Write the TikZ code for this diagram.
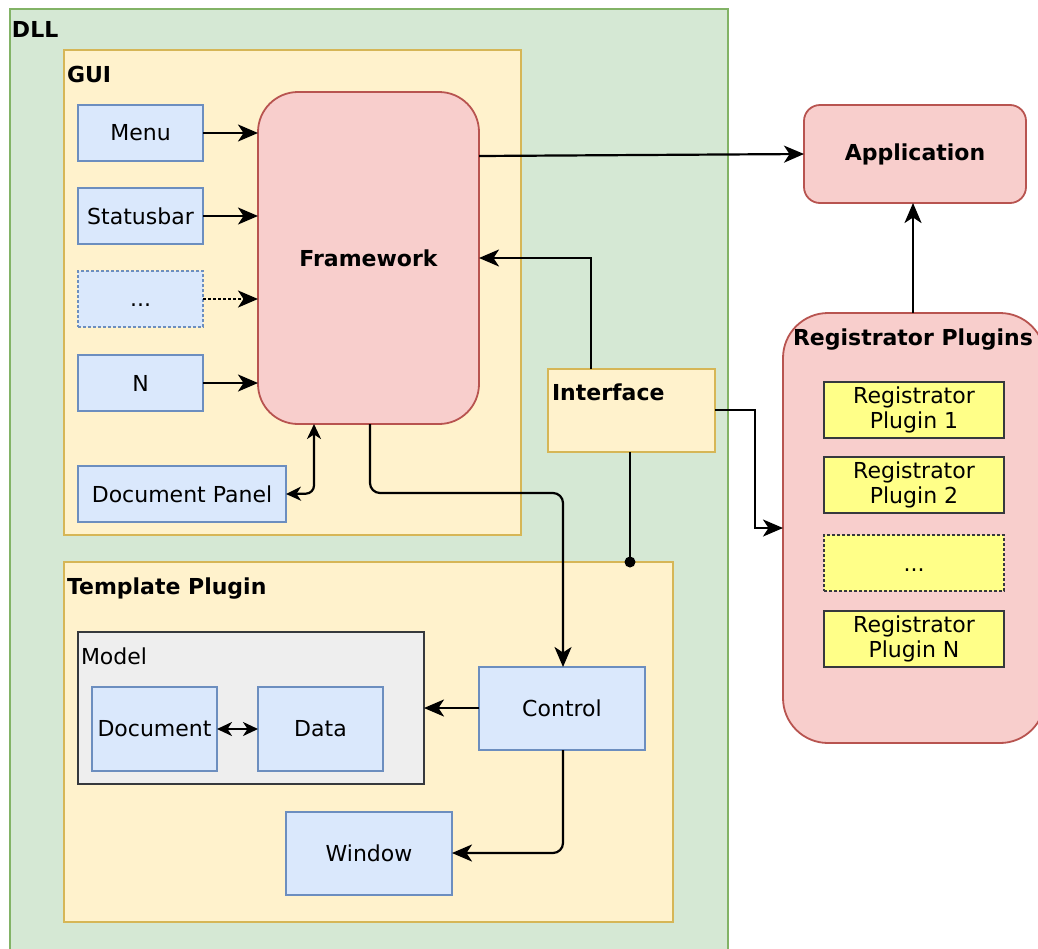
\documentclass[tikz,border=0pt]{standalone}
\usepackage{fontspec}
\setmainfont{DejaVu Sans}
\usetikzlibrary{arrows.meta}
\definecolor{gfill}{HTML}{D5E8D4}
\definecolor{gdraw}{HTML}{82B366}
\definecolor{yfill}{HTML}{FFF2CC}
\definecolor{ydraw}{HTML}{D6B656}
\definecolor{bfill}{HTML}{DAE8FC}
\definecolor{bdraw}{HTML}{6C8EBF}
\definecolor{rfill}{HTML}{F8CECC}
\definecolor{rdraw}{HTML}{B85450}
\definecolor{pfill}{HTML}{FFFF88}
\definecolor{pdraw}{HTML}{36393D}
\definecolor{mfill}{HTML}{EEEEEE}
\begin{document}
\begin{tikzpicture}[x=1pt,y=-1pt,
  font=\fontsize{22}{25}\selectfont,
  every node/.style={inner sep=0pt, outer sep=0pt, anchor=north west, align=center},
  container/.style={draw=ydraw, fill=yfill, line width=1.8pt},
  bluebox/.style={draw=bdraw, fill=bfill, line width=1.8pt},
  redbox/.style={draw=rdraw, fill=rfill, line width=1.8pt},
  plugbox/.style={draw=pdraw, fill=pfill, line width=1.8pt, minimum width=180pt, minimum height=56pt},
  modelbox/.style={draw=pdraw, fill=mfill, line width=1.8pt},
  bfont/.style={font=\fontsize{22}{26}\selectfont\bfseries},
  lbl/.style={anchor=base west, bfont},
  conn/.style={line width=2.2pt, -{Stealth[length=20pt,width=17pt,inset=5.5pt]}},
  conn2/.style={line width=2.2pt, {Stealth[length=15pt,width=14pt,inset=4.5pt]}-{Stealth[length=15pt,width=14pt,inset=4.5pt]}}
]
\useasboundingbox (0,0) rectangle (1038,948);
\fill[white] (0,0) rectangle (1038,948);

% DLL container
\node[draw=gdraw, fill=gfill, line width=1.8pt, minimum width=718pt, minimum height=945pt] (dll) at (10,9) {};
\node[lbl] (dlllbl) at (12,37) {DLL};

% GUI container
\node[container, minimum width=457pt, minimum height=485pt] (gui) at (64,50) {};
\node[lbl] (guilbl) at (67,82) {GUI};

% Template plugin container
\node[container, minimum width=609pt, minimum height=360pt] (tpl) at (64,562) {};
\node[lbl] (tpllbl) at (67,594) {Template Plugin};

% GUI items
\node[bluebox, minimum width=125pt, minimum height=56pt] (menu) at (78,105) {Menu};
\node[bluebox, minimum width=125pt, minimum height=56pt] (status) at (78,188) {Statusbar};
\node[bluebox, densely dashed, minimum width=125pt, minimum height=56pt] (dots) at (78,271) {\smash{\raisebox{-7pt}{...}}};
\node[bluebox, minimum width=125pt, minimum height=56pt] (nn) at (78,355) {N};
\node[bluebox, minimum width=208pt, minimum height=56pt] (docpanel) at (78,466) {Document Panel};

\node[redbox, rounded corners=40pt, minimum width=221pt, minimum height=332pt, bfont] (fw) at (258,92) {Framework};

% Interface
\node[container, minimum width=167pt, minimum height=83pt] (iface) at (548,369) {};
\node[lbl] (ifacelbl) at (552,400) {Interface};

% Application
\node[redbox, rounded corners=16pt, minimum width=222pt, minimum height=98pt, bfont] (app) at (804,105) {Application};

% Registrator plugins
\node[redbox, rounded corners=45pt, minimum width=262pt, minimum height=430pt] (reg) at (783,313) {};
\node[anchor=base, bfont] (reglbl) at (913,345) {Registrator Plugins};
\node[plugbox] (rp1) at (824,382) {\raisebox{-6pt}{\parbox{170pt}{\centering Registrator\\Plugin 1}}};
\node[plugbox] (rp2) at (824,457) {\raisebox{-6pt}{\parbox{170pt}{\centering Registrator\\Plugin 2}}};
\node[plugbox, densely dashed] (rpd) at (824,535) {\smash{\raisebox{-8pt}{...}}};
\node[plugbox] (rpn) at (824,611) {\raisebox{-6pt}{\parbox{170pt}{\centering Registrator\\Plugin N}}};

% Model
\node[modelbox, minimum width=346pt, minimum height=152pt] (model) at (78,632) {};
\node[anchor=base west] (modellbl) at (81,664) {Model};
\node[bluebox, minimum width=125pt, minimum height=84pt] (doc) at (92,687) {Document};
\node[bluebox, minimum width=125pt, minimum height=84pt] (data) at (258,687) {Data};

\node[bluebox, minimum width=166pt, minimum height=83pt] (ctrl) at (479,667) {Control};
\node[bluebox, minimum width=166pt, minimum height=83pt] (win) at (286,812) {Window};

% connectors
\draw[conn] (menu.east) -- (menu.east -| fw.west);
\draw[conn] (status.east) -- (status.east -| fw.west);
\draw[conn, densely dashed] (dots.east) -- (dots.east -| fw.west);
\draw[conn] (nn.east) -- (nn.east -| fw.west);
\draw[conn2, rounded corners=8pt] (docpanel.east) -- (314,493.5) -- (314,424);
\draw[conn] (fw.east |- 0,156) -- (app.west |- 0,154);
\draw[conn] (iface.north -| 591,0) -- (591,258) -- (fw.east |- 0,258);
\draw[conn] (iface.east |- 0,410) -- (755,410) -- (755,528) -- (reg.west |- 0,528);
\coordinate (ifdot) at (630,562);
\draw[line width=2.2pt] (iface.south -| 630,0) -- (ifdot);
\fill (ifdot) circle (5.5pt);
\draw[conn, rounded corners=10pt] (fw.south -| 370,0) -- (370,493) -- (563,493) -- (ctrl.north -| 563,0);
\draw[conn] (ctrl.west |- 0,708) -- (model.east |- 0,708);
\draw[conn2] (doc.east) -- (data.west);
\draw[conn, rounded corners=10pt] (ctrl.south -| 563,0) -- (563,853) -- (win.east |- 0,853);
\draw[conn] (reg.north -| 913,0) -- (app.south -| 913,0);
\end{tikzpicture}
\end{document}
